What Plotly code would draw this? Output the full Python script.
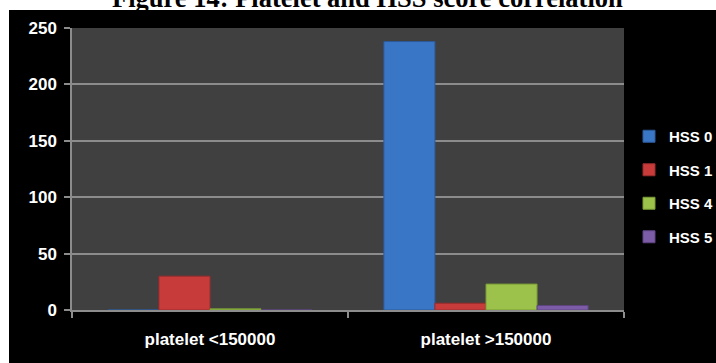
import plotly.graph_objects as go

# Patient counts per HSS score, split by platelet count
categories = ["platelet <150000", "platelet >150000"]
series_names = ["HSS 0", "HSS 1", "HSS 4", "HSS 5"]
hss0 = [0, 238]
hss1 = [30, 6]
hss4 = [1, 23]
hss5 = [0, 4]
series_values = [hss0, hss1, hss4, hss5]
y_ticks = [0, 50, 100, 150, 200, 250]

colors = ["#3a76c6", "#c83b3b", "#9cc24b", "#7c5ca7"]
edges = ["#2c5a99", "#9a2c2c", "#789a35", "#5e4482"]

W, H = 716, 363
L, R, T, B = 72, 92, 28, 53
pw, ph = W - L - R, H - T - B


def px_x(x):
    return (x - L) / pw


def px_y(y):
    return (H - B - y) / ph


fig = go.Figure()
for name, vals, c, e in zip(series_names, series_values, colors, edges):
    fig.add_trace(go.Bar(
        x=categories, y=vals, name=name,
        marker=dict(color=c, line=dict(color=e, width=1)),
        legendgroup=name,
    ))

label_font = dict(family="Liberation Sans", size=17, color="#ffffff", weight="bold")

fig.update_layout(
    width=W, height=H,
    margin=dict(l=L, r=R, t=T, b=B, pad=0, autoexpand=False),
    paper_bgcolor="#ffffff",
    plot_bgcolor="rgba(0,0,0,0)",
    barmode="group", bargap=0.26, bargroupgap=0,
    showlegend=True,
    legend=dict(
        x=px_x(629), y=px_y(120), xanchor="left", yanchor="top",
        xref="paper", yref="paper",
        font=dict(family="Liberation Sans", size=15, color="#ffffff", weight="bold"),
        bgcolor="rgba(0,0,0,0)", borderwidth=0,
        traceorder="grouped", tracegroupgap=11,
    ),
    annotations=[
        dict(
            text="Figure 14: Platelet and HSS score correlation",
            font=dict(family="Liberation Serif", size=26.5, color="#000000", weight="bold"),
            x=px_x(367), xanchor="center", xref="paper",
            y=px_y(-2), yanchor="middle", yref="paper",
            showarrow=False,
        )
    ],
    shapes=[
        dict(type="rect", xref="paper", yref="paper", layer="below",
             x0=px_x(9), x1=px_x(740), y0=px_y(380), y1=px_y(10),
             fillcolor="#000000", line=dict(width=0)),
        dict(type="rect", xref="paper", yref="paper", layer="below",
             x0=0, x1=1, y0=0, y1=1,
             fillcolor="#404040", line=dict(width=0)),
    ],
)

fig.update_yaxes(
    range=[0, 250], tickvals=y_ticks, ticktext=[str(v) for v in y_ticks],
    showgrid=True, gridcolor="#8c8c8c", gridwidth=1.5,
    zeroline=False, showline=True, linecolor="#8c8c8c", linewidth=1.5,
    ticks="outside", ticklen=6, tickcolor="#8c8c8c", tickwidth=1.5,
    tickfont=label_font, ticklabelstandoff=4,
)
fig.update_xaxes(
    type="category", showgrid=False, zeroline=False,
    showline=True, linecolor="#8c8c8c", linewidth=1.5,
    ticks="outside", ticklen=6, tickcolor="#8c8c8c", tickwidth=1.5,
    tickson="boundaries", tickfont=label_font, ticklabelstandoff=13,
)

fig.write_html("out.html")
